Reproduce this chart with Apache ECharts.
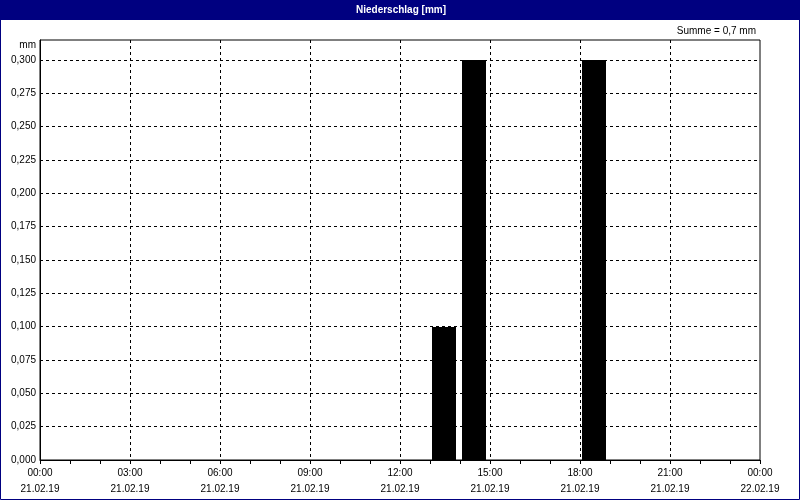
<!DOCTYPE html>
<html><head><meta charset="utf-8">
<script src="https://cdn.jsdelivr.net/npm/echarts@6/dist/echarts.min.js"></script>
<style>html,body{margin:0;padding:0;background:#fff}#c{width:800px;height:500px}</style>
</head><body><div id="c"></div><script>
// Data
const barHours = [13, 14, 18];          // start hour of each hourly bar
const barValues = [0.1, 0.3, 0.3];      // mm
const timeLabels = ['00:00','03:00','06:00','09:00','12:00','15:00','18:00','21:00','00:00'];
const dateLabels = ['21.02.19','21.02.19','21.02.19','21.02.19','21.02.19','21.02.19','21.02.19','21.02.19','22.02.19'];
const chartTitle = 'Niederschlag [mm]';
const unitLabel = 'mm';
const sumLabel = 'Summe = 0,7 mm';

const FONT = 'Liberation Sans';
const chart = echarts.init(document.getElementById('c'), null, {renderer: 'canvas'});
chart.setOption({
  animation: false,
  backgroundColor: '#fff',
  grid: {left: 40, right: 40, top: 40, bottom: 40, show: true, borderColor: '#000', borderWidth: 1, backgroundColor: 'transparent'},
  xAxis: {
    type: 'value', min: 0, max: 24, interval: 3,
    axisLine: {show: true, lineStyle: {color: '#000', width: 1}},
    axisTick: {show: true, inside: false, length: 4, lineStyle: {color: '#000'}},
    minorTick: {show: true, splitNumber: 3, length: 4, lineStyle: {color: '#000'}},
    splitLine: {show: true, showMinLine: false, showMaxLine: false, lineStyle: {color: '#000', type: [3, 3], width: 1}},
    axisLabel: {
      margin: 5, color: '#000', fontFamily: FONT, fontSize: 10, lineHeight: 16,
      showMinLabel: true, showMaxLabel: true,
      formatter: v => { const i = Math.round(v / 3); return timeLabels[i] + '\n' + dateLabels[i]; }
    }
  },
  yAxis: {
    type: 'value', min: 0, max: 0.315, interval: 0.025,
    axisLine: {show: true, lineStyle: {color: '#000', width: 1}},
    axisTick: {show: false},
    splitLine: {show: true, showMinLine: false, showMaxLine: false, lineStyle: {color: '#000', type: [3, 3], width: 1}},
    axisLabel: {
      margin: 4, color: '#000', fontFamily: FONT, fontSize: 10,
      formatter: v => v > 0.3001 ? '' : v.toFixed(3).replace('.', ',')
    }
  },
  series: [{
    type: 'custom',
    data: barHours.map((h, i) => [h, barValues[i]]),
    renderItem: (params, api) => {
      const top = api.coord([api.value(0), api.value(1)]);
      const next = api.coord([api.value(0) + 1, 0]);
      const w = next[0] - top[0];
      const x0 = Math.round(top[0] + w * 0.05);
      const y0 = Math.round(top[1]);
      const y1 = Math.round(next[1]);
      return {type: 'rect', shape: {x: x0, y: y0, width: Math.round(w * 0.8), height: y1 - y0}, style: {fill: '#000'}};
    }
  }],
  graphic: [
    {type: 'rect', z: 100, shape: {x: 0, y: 0, width: 800, height: 20}, style: {fill: '#000080'}},
    {type: 'rect', z: 100, shape: {x: 0.5, y: 0.5, width: 799, height: 499}, style: {fill: 'none', stroke: '#000080', lineWidth: 1}},
    {type: 'text', z: 101, x: 401, y: 10, style: {text: chartTitle, fill: '#fff', font: 'bold 10px "Liberation Sans"', align: 'center', verticalAlign: 'middle'}},
    {type: 'text', z: 101, x: 756, y: 31, style: {text: sumLabel, fill: '#000', font: '10px "Liberation Sans"', align: 'right', verticalAlign: 'middle'}},
    {type: 'text', z: 101, x: 36, y: 45, style: {text: unitLabel, fill: '#000', font: '10px "Liberation Sans"', align: 'right', verticalAlign: 'middle'}}
  ]
});
</script></body></html>
